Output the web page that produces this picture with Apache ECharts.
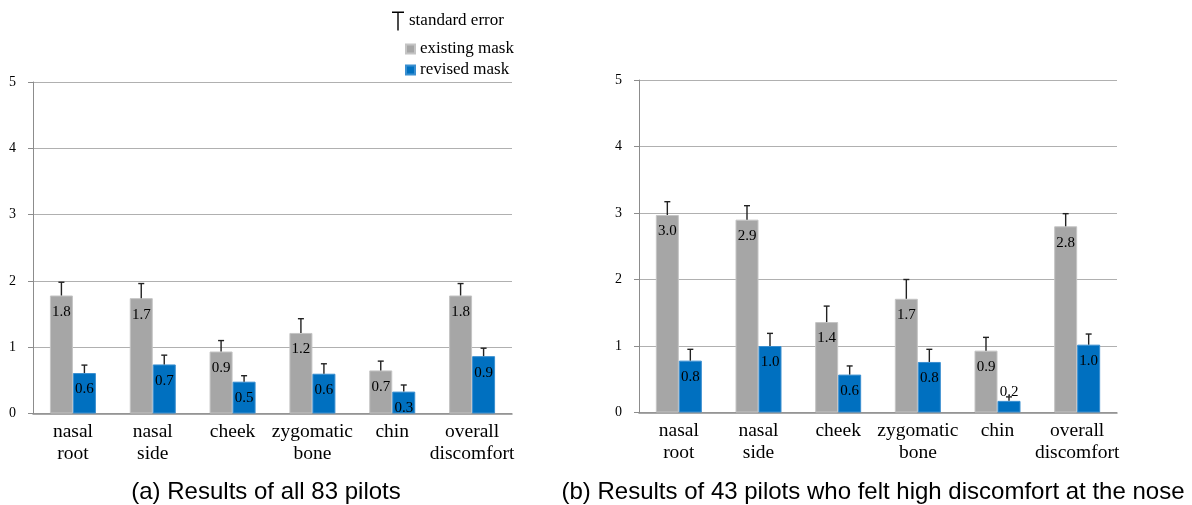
<!DOCTYPE html>
<html>
<head>
<meta charset="utf-8">
<script src="https://cdn.jsdelivr.net/npm/echarts@6/dist/echarts.min.js"></script>
<style>
html,body{margin:0;padding:0;background:#fff;}
#chart{width:1192px;height:505px;}
</style>
</head>
<body>
<div id="chart"></div>
<script>
// ---- data ----
const categories = ['nasal\nroot', 'nasal\nside', 'cheek', 'zygomatic\nbone', 'chin', 'overall\ndiscomfort'];
const yTicks = [0, 1, 2, 3, 4, 5];

// (a) all 83 pilots
const existingA   = [1.78, 1.74, 0.935, 1.215, 0.65, 1.78];
const existingSeA = [0.20, 0.22, 0.165, 0.215, 0.14, 0.18];
const revisedA    = [0.61, 0.74, 0.48, 0.60, 0.33, 0.865];
const revisedSeA  = [0.12, 0.14, 0.09, 0.15, 0.10, 0.12];

// (b) 43 pilots with high nose discomfort
const existingB   = [2.97, 2.90, 1.36, 1.71, 0.93, 2.80];
const existingSeB = [0.20, 0.21, 0.24, 0.29, 0.20, 0.19];
const revisedB    = [0.78, 1.00, 0.57, 0.76, 0.175, 1.02];
const revisedSeB  = [0.17, 0.19, 0.13, 0.19, 0.06, 0.16];

const captionA = '(a) Results of all 83 pilots';
const captionB = '(b) Results of 43 pilots who felt high discomfort at the nose';

// ---- styles ----
const SERIF = '"Liberation Serif", "Times New Roman", serif';
const SANS = '"Liberation Sans", Arial, Helvetica, sans-serif';
const GRAY = '#a6a6a6';
const BLUE = '#0070c0';
const BAR_W = 23;

const chart = echarts.init(document.getElementById('chart'), null, {renderer: 'canvas'});

function barSeries(name, values, color, border, gi) {
  return {
    name: name,
    type: 'bar',
    xAxisIndex: gi, yAxisIndex: gi,
    barWidth: BAR_W,
    barGap: '0%',
    itemStyle: {color: color, borderColor: border, borderWidth: 1},
    label: {
      show: true,
      position: 'insideTop',
      distance: 9,
      fontFamily: SERIF,
      fontSize: 15,
      color: '#000',
      formatter: p => p.value.toFixed(1)
    },
    data: values.map(v => {
      if (v < 0.3) {
        return {value: v, label: {position: 'top', distance: 1}};
      }
      return v;
    }),
    z: 2
  };
}

function errSeries(exist, seE, rev, seR, gi) {
  const data = [];
  exist.forEach((v, i) => data.push([i, v, v + seE[i], -1]));
  rev.forEach((v, i) => data.push([i, v, v + seR[i], 1]));
  return {
    name: 'standard error',
    type: 'custom',
    xAxisIndex: gi, yAxisIndex: gi,
    itemStyle: {color: '#000'},
    renderItem: function (params, api) {
      const idx = api.value(0);
      const side = api.value(3);
      const base = api.coord([idx, api.value(1)]);
      const top = api.coord([idx, api.value(2)]);
      const x = base[0] + side * BAR_W / 2;
      const cap = 3;
      return {
        type: 'group',
        children: [
          {type: 'line', shape: {x1: x, y1: base[1], x2: x, y2: top[1]},
           style: {stroke: '#222', lineWidth: 1.4}},
          {type: 'line', shape: {x1: x - cap, y1: top[1], x2: x + cap, y2: top[1]},
           style: {stroke: '#222', lineWidth: 1.4}}
        ]
      };
    },
    encode: {x: 0, y: [1, 2]},
    data: data,
    z: 5
  };
}

function xAxis(gi) {
  return {
    type: 'category',
    gridIndex: gi,
    data: categories,
    axisLine: {show: true, lineStyle: {color: '#8c8c8c', width: 1.5}},
    axisTick: {show: false},
    axisLabel: {
      fontFamily: SERIF, fontSize: 19.5, color: '#000',
      lineHeight: 22, margin: 7, interval: 0
    }
  };
}

function yAxis(gi) {
  return {
    type: 'value',
    gridIndex: gi,
    min: yTicks[0], max: yTicks[yTicks.length - 1], interval: 1,
    axisLine: {show: true, lineStyle: {color: '#8c8c8c', width: 1}},
    axisTick: {show: true, length: 5, lineStyle: {color: '#8c8c8c'}},
    axisLabel: {fontFamily: SERIF, fontSize: 14, color: '#000', margin: 17},
    splitLine: {show: true, lineStyle: {color: '#b0b0b0', width: 1}}
  };
}

const option = {
  backgroundColor: '#fff',
  animation: false,
  grid: [
    {left: 33, top: 82, width: 479, height: 331.5},
    {left: 639, top: 80, width: 478, height: 332.5}
  ],
  xAxis: [xAxis(0), xAxis(1)],
  yAxis: [yAxis(0), yAxis(1)],
  legend: [
    {
      orient: 'vertical',
      left: 392, top: 11.5, padding: 0,
      itemWidth: 12, itemHeight: 19,
      data: [{name: 'standard error',
              icon: 'path://M0,0H12V1.4H0Z M5.3,0H6.7V19H5.3Z',
              itemStyle: {color: '#000'}}],
      textStyle: {fontFamily: SERIF, fontSize: 17, color: '#000', padding: [4, 0, 0, 0]},
      itemGap: 0,
      selectedMode: false
    },
    {
      orient: 'vertical',
      left: 405, top: 40.5, padding: 0,
      itemWidth: 9, itemHeight: 9,
      icon: 'rect',
      itemGap: 4,
      data: ['existing mask', 'revised mask'],
      textStyle: {fontFamily: SERIF, fontSize: 17, color: '#000', lineHeight: 17},
      selectedMode: false
    }
  ],
  title: [
    {text: captionA, left: 266, top: 480, padding: 0, textAlign: 'center',
     textStyle: {fontFamily: SANS, fontSize: 24, fontWeight: 'normal', color: '#000'}},
    {text: captionB, left: 873, top: 480, padding: 0, textAlign: 'center',
     textStyle: {fontFamily: SANS, fontSize: 24, fontWeight: 'normal', color: '#000'}}
  ],
  series: [
    barSeries('existing mask', existingA, GRAY, '#c4c4c4', 0),
    barSeries('revised mask', revisedA, BLUE, '#3a8fd0', 0),
    errSeries(existingA, existingSeA, revisedA, revisedSeA, 0),
    barSeries('existing mask', existingB, GRAY, '#c4c4c4', 1),
    barSeries('revised mask', revisedB, BLUE, '#3a8fd0', 1),
    errSeries(existingB, existingSeB, revisedB, revisedSeB, 1)
  ]
};
chart.setOption(option);
</script>
</body>
</html>
